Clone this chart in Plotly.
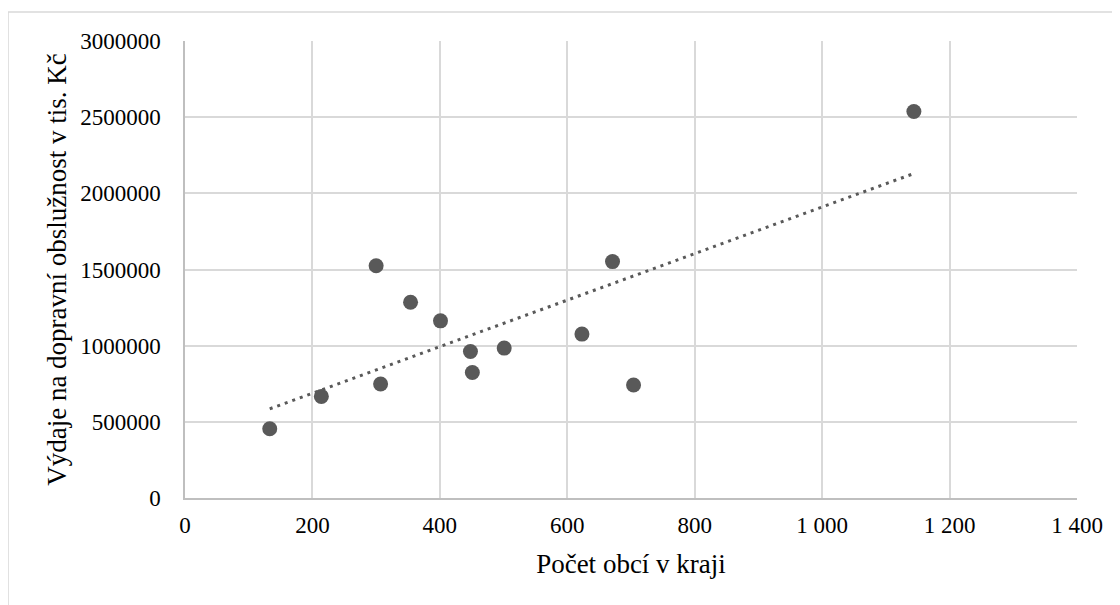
import numpy as np
import plotly.graph_objects as go

# Data
pocet_obci = [133, 214, 300, 307, 354, 401, 448, 451, 501, 623, 671, 704, 1144]
vydaje = [455000, 667000, 1525000, 748000, 1285000, 1163000, 962000, 824000,
          984000, 1076000, 1552000, 742000, 2537000]

x_ticks = [0, 200, 400, 600, 800, 1000, 1200, 1400]
x_tick_labels = ["0", "200", "400", "600", "800", "1 000", "1 200", "1 400"]
y_ticks = [0, 500000, 1000000, 1500000, 2000000, 2500000, 3000000]
y_tick_labels = ["0", "500000", "1000000", "1500000", "2000000", "2500000", "3000000"]

# Linear trend (least squares) drawn across the data range
slope, intercept = np.polyfit(pocet_obci, vydaje, 1)
trend_x = [min(pocet_obci), max(pocet_obci)]
trend_y = [slope * v + intercept for v in trend_x]

FONT = "Liberation Serif"
GRID = "#d9d9d9"
MARK = "#595959"

fig = go.Figure()
fig.add_trace(go.Scatter(
    x=trend_x, y=trend_y, mode="lines",
    line=dict(color=MARK, width=3, dash="3px,5px"),
    hoverinfo="skip", showlegend=False,
))
fig.add_trace(go.Scatter(
    x=pocet_obci, y=vydaje, mode="markers",
    marker=dict(color=MARK, size=15, line=dict(width=0)),
    showlegend=False,
))

fig.update_layout(
    width=1120, height=605,
    margin=dict(l=177, r=51, t=33, b=114.5, autoexpand=False),
    paper_bgcolor="white", plot_bgcolor="white",
    font=dict(family=FONT, color="#000000", size=23),
    xaxis=dict(
        range=[0, 1400], tickvals=x_ticks, ticktext=x_tick_labels,
        showgrid=True, gridcolor=GRID, gridwidth=1.5,
        zeroline=False, showline=True, linecolor="#bfbfbf", linewidth=1.5,
        ticks="outside", ticklen=6, tickcolor="rgba(0,0,0,0)",
        tickfont=dict(family=FONT, size=23, color="#000000"),
        title=dict(text="Počet obcí v kraji", font=dict(family=FONT, size=27, color="#000000"),
                   standoff=17),
        automargin=False, fixedrange=True,
    ),
    yaxis=dict(
        range=[0, 3000000], tickvals=y_ticks, ticktext=y_tick_labels,
        showgrid=True, gridcolor=GRID, gridwidth=1.5,
        zeroline=False, showline=True, linecolor="#bfbfbf", linewidth=1.5,
        ticks="outside", ticklen=18, tickcolor="rgba(0,0,0,0)",
        tickfont=dict(family=FONT, size=23, color="#000000"),
        title=dict(text="Výdaje na dopravní obslužnost v tis. Kč",
                   font=dict(family=FONT, size=27, color="#000000"), standoff=6),
        automargin=False, fixedrange=True,
    ),
    shapes=[dict(
        type="rect", xref="paper", yref="paper",
        x0=-0.1984, x1=1.2, y0=-0.4, y1=1.0634,
        line=dict(color="#d9d9d9", width=1.5), fillcolor="rgba(0,0,0,0)", layer="below",
    )],
)

fig.write_html("out.html")
